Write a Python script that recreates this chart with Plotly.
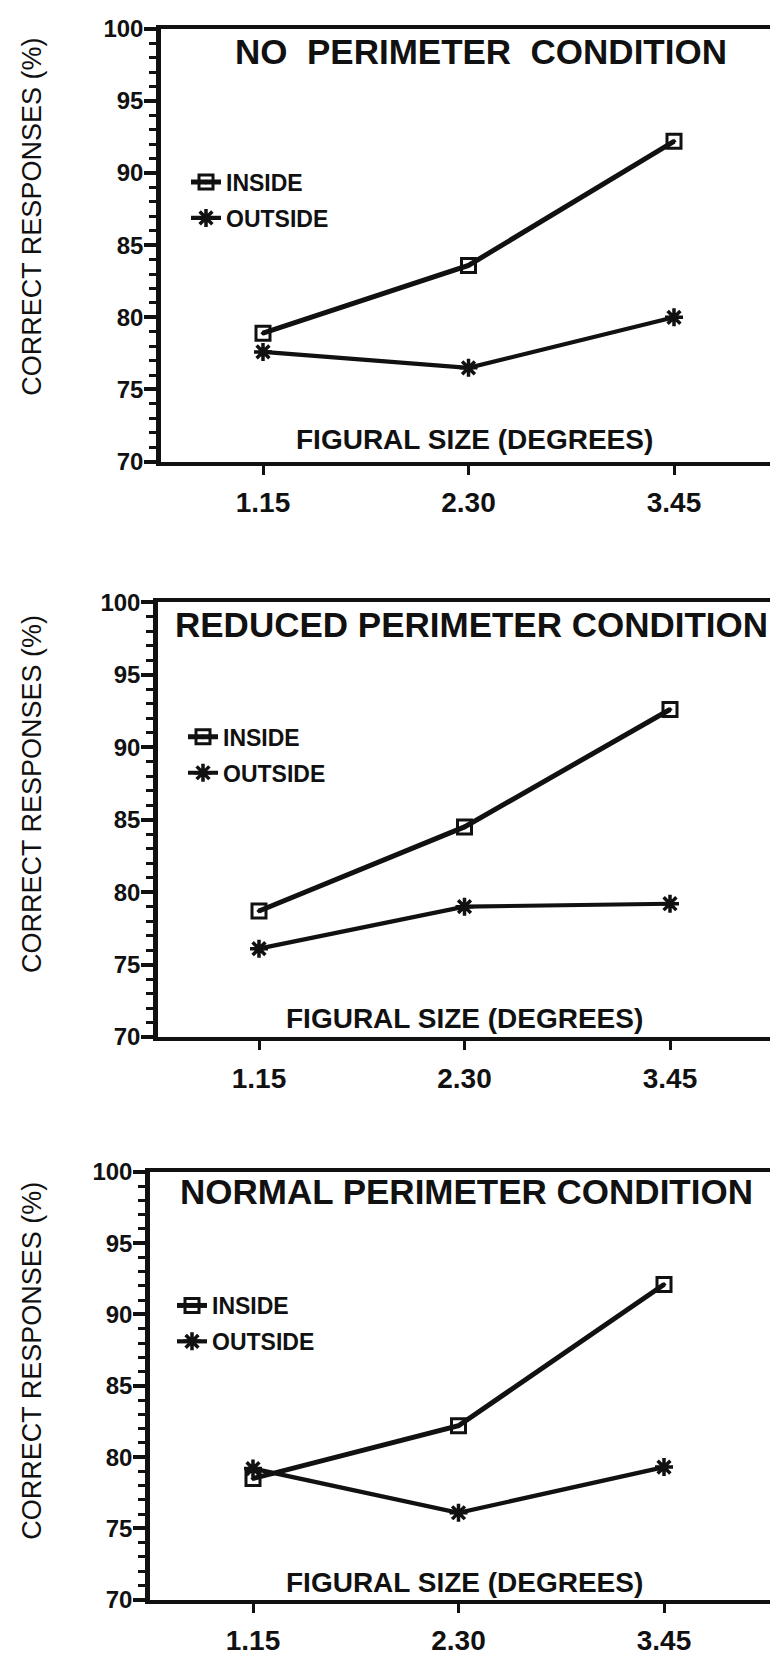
import plotly.graph_objects as go

# ---- data ----
sizes = [1.15, 2.30, 3.45]
size_labels = ["1.15", "2.30", "3.45"]

no_inside = [78.9, 83.6, 92.2]
no_outside = [77.6, 76.5, 80.0]
reduced_inside = [78.7, 84.5, 92.6]
reduced_outside = [76.1, 79.0, 79.2]
normal_inside = [78.5, 82.2, 92.1]
normal_outside = [79.2, 76.1, 79.3]

titles = ["NO PERIMETER CONDITION", "REDUCED PERIMETER CONDITION", "NORMAL PERIMETER CONDITION"]
series_names = ["INSIDE", "OUTSIDE"]
x_title = "FIGURAL SIZE (DEGREES)"
y_title = "CORRECT RESPONSES (%)"

panels_inside = [no_inside, reduced_inside, normal_inside]
panels_outside = [no_outside, reduced_outside, normal_outside]

# ---- layout geometry (pixels in a 770 x 1659 page) ----
W, H = 770, 1659
FONT = "Liberation Sans, Arial, sans-serif"
INK = "#111111"
geo = [
    dict(x0=161, top=15, bot=455, t1=263, t3=674, tx=481, ty=38, tsp=1, lx=186, ly=149, xtx=474, xty=433, yty=206),
    dict(x0=158, top=598, bot=1040, t1=259, t3=670, tx=471, ty=621, tsp=0, lx=183, ly=713, xtx=464, xty=1021, yty=793),
    dict(x0=150, top=1177, bot=1612, t1=253, t3=664, tx=466, ty=1197, tsp=0, lx=172, ly=1291, xtx=464, xty=1594, yty=1369),
]

def px(x):
    return x / W

def py(y):
    return 1 - y / H

fig = go.Figure()
layout = dict(
    width=W, height=H,
    margin=dict(l=0, r=0, t=0, b=0),
    paper_bgcolor="white", plot_bgcolor="white",
    showlegend=True,
    font=dict(family=FONT, color=INK),
)
annotations = []

for i, g in enumerate(geo):
    n = "" if i == 0 else str(i + 1)
    xa, ya = "x" + n, "y" + n
    leg = "legend" + n
    per_px = (sizes[-1] - sizes[0]) / (g["t3"] - g["t1"])
    xr = [sizes[0] - (g["t1"] - g["x0"]) * per_px, sizes[-1] + (W - g["t3"]) * per_px]

    fig.add_trace(go.Scatter(
        x=sizes, y=panels_inside[i], name=series_names[0], mode="lines+markers",
        xaxis=xa, yaxis=ya, legend=leg, legendgroup="in" + n,
        line=dict(color=INK, width=5),
        marker=dict(symbol="square-open-dot", size=14, color=INK, line=dict(width=3, color=INK)),
        cliponaxis=False,
    ))
    fig.add_trace(go.Scatter(
        x=sizes, y=panels_outside[i], name=series_names[1], mode="lines+markers",
        xaxis=xa, yaxis=ya, legend=leg, legendgroup="out" + n,
        line=dict(color=INK, width=4.2),
        marker=dict(symbol="asterisk-open", size=15, color=INK, line=dict(width=3.5, color=INK)),
        cliponaxis=False,
    ))

    layout["xaxis" + n] = dict(
        domain=[px(g["x0"]), 1], range=xr, anchor=ya,
        showline=True, linewidth=4, linecolor=INK, mirror=True,
        ticks="outside", ticklen=9, tickwidth=3, tickcolor=INK,
        tickvals=sizes, ticktext=size_labels,
        tickfont=dict(family=FONT, size=28, weight="bold", color=INK),
        ticklabelstandoff=4,
        showgrid=False, zeroline=False,
    )
    layout["yaxis" + n] = dict(
        domain=[py(g["bot"]), py(g["top"])], range=[70, 100], anchor=xa,
        showline=True, linewidth=4.5, linecolor=INK, mirror=False,
        ticks="outside", ticklen=12, tickwidth=3.5, tickcolor=INK,
        dtick=5, tick0=70,
        minor=dict(dtick=1, ticks="outside", ticklen=7, tickwidth=3, tickcolor=INK),
        tickfont=dict(family=FONT, size=24, weight="bold", color=INK),
        ticklabelstandoff=-4,
        showgrid=False, zeroline=False,
    )
    layout[leg] = dict(
        x=px(g["lx"]), y=py(g["ly"]), xanchor="left", yanchor="top",
        bgcolor="rgba(0,0,0,0)", borderwidth=0,
        font=dict(family=FONT, size=23, weight="bold", color=INK),
        tracegroupgap=3, itemwidth=30,
    )
    gap = "&nbsp;" * g["tsp"] + " "
    annotations.append(dict(
        text=titles[i].replace(" ", gap), x=px(g["tx"]), y=py(g["ty"]), xref="paper", yref="paper",
        xanchor="center", yanchor="middle", showarrow=False,
        font=dict(family=FONT, size=35, weight="bold", color=INK),
    ))
    annotations.append(dict(
        text=x_title, x=px(g["xtx"]), y=py(g["xty"]), xref="paper", yref="paper",
        xanchor="center", yanchor="middle", showarrow=False,
        font=dict(family=FONT, size=28, weight="bold", color=INK),
    ))
    annotations.append(dict(
        text=y_title, x=px(32), y=py(g["yty"]), xref="paper", yref="paper",
        xanchor="center", yanchor="middle", showarrow=False, textangle=-90,
        font=dict(family=FONT, size=27, color=INK),
    ))

layout["annotations"] = annotations
fig.update_layout(**layout)
fig.write_html("out.html", post_script="document.body.style.margin='0';")
